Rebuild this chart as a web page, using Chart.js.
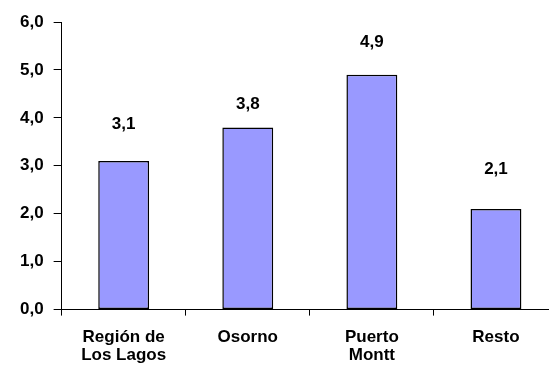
<!DOCTYPE html>
<html>
<head>
<meta charset="utf-8">
<script src="https://cdn.jsdelivr.net/npm/chart.js@4.4.1/dist/chart.umd.min.js"></script>
<style>
    html, body { margin: 0; padding: 0; background: #fff; overflow: hidden; }
    #wrap { position: relative; width: 562px; height: 381px; }
</style>
</head>
<body>
<div id="wrap"><canvas id="chart"></canvas></div>
<script>
const categories = [['Región de', 'Los Lagos'], 'Osorno', ['Puerto', 'Montt'], 'Resto'];
const values = [3.1, 3.8, 4.9, 2.1];
const yTickLabels = ['0,0', '1,0', '2,0', '3,0', '4,0', '5,0', '6,0'];

// distance of each value label above its bar
const labelGap = [37, 23, 32, 40];

const fmt = v => v.toFixed(1).replace('.', ',');

const barLabels = {
    id: 'barLabels',
    afterDatasetsDraw(chart) {
        const ctx = chart.ctx;
        const meta = chart.getDatasetMeta(0);
        ctx.save();
        ctx.font = 'bold 17px "Liberation Sans", Arial, sans-serif';
        ctx.fillStyle = '#000';
        ctx.textAlign = 'center';
        ctx.textBaseline = 'middle';
        meta.data.forEach((bar, i) => {
            ctx.fillText(fmt(values[i]), bar.x, bar.y - labelGap[i]);
        });
        ctx.restore();
    }
};

Chart.defaults.font.family = '"Liberation Sans", Arial, sans-serif';
Chart.defaults.font.weight = 'bold';
Chart.defaults.font.size = 17;
Chart.defaults.color = '#000';

new Chart(document.getElementById('chart').getContext('2d'), {
    type: 'bar',
    data: {
        labels: categories,
        datasets: [{
            data: values,
            backgroundColor: '#9999FF',
            borderColor: '#000',
            borderWidth: 1.5,
            borderSkipped: false,
            categoryPercentage: 1,
            barPercentage: 0.41
        }]
    },
    options: {
        responsive: true,
        maintainAspectRatio: false,
        animation: false,
        layout: { padding: { left: 10, right: 4, top: 22, bottom: 4 } },
        plugins: {
            legend: { display: false },
            tooltip: { enabled: false }
        },
        scales: {
            x: {
                border: { color: '#000', width: 1 },
                grid: { drawOnChartArea: false, color: '#000', tickLength: 6, offset: true },
                ticks: { padding: 12, maxRotation: 0, font: { size: 17, weight: 'bold', lineHeight: 1.1 } }
            },
            y: {
                min: 0,
                max: 6,
                border: { color: '#000', width: 1 },
                grid: { drawOnChartArea: false, color: '#000', tickLength: 8 },
                ticks: {
                    stepSize: 1,
                    padding: 10,
                    callback: (v, i) => yTickLabels[i]
                }
            }
        }
    },
    plugins: [barLabels]
});
</script>
</body>
</html>
